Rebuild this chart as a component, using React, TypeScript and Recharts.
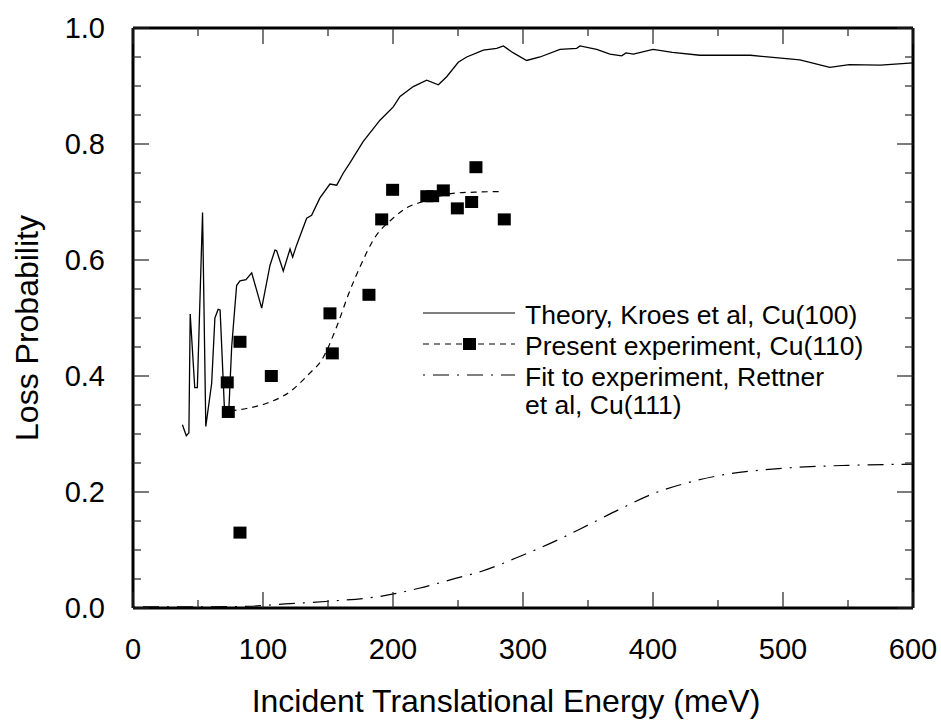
import {
  ComposedChart,
  Line,
  Scatter,
  XAxis,
  YAxis,
} from 'recharts';

const FONT = '"Liberation Sans", Arial, Helvetica, sans-serif';

// Theory, Kroes et al, Cu(100)
const theoryEnergy = [
  38, 41, 43, 44, 47.5, 49.5, 53.5, 56, 60.5, 63, 65.5, 67, 70.3, 71.5, 73.5, 75.9,
  79.7, 82.3, 86.9, 91.3, 99, 105.4, 109.2, 110.5, 115.6, 120.8, 122.8, 125.9, 133.6,
  137.4, 143.8, 151.5, 156.7, 161.8, 167, 177, 190, 200.2, 205.4, 215.6, 225.9, 234.9,
  241.3, 250.2, 256.7, 269.5, 279.8, 284.9, 292.6, 302.8, 313.1, 328.5, 341.3, 343.8,
  356.7, 366.9, 375.9, 379.2, 385, 400, 415, 436, 475, 513, 536, 551, 575, 600,
];
const theoryProb = [
  0.316, 0.297, 0.302, 0.507, 0.38, 0.38, 0.682, 0.313, 0.387, 0.5, 0.515, 0.514, 0.345,
  0.33, 0.33, 0.45, 0.556, 0.564, 0.566, 0.578, 0.517, 0.591, 0.617, 0.616, 0.581, 0.619,
  0.605, 0.626, 0.672, 0.677, 0.707, 0.731, 0.729, 0.75, 0.768, 0.804, 0.841, 0.864, 0.882,
  0.899, 0.91, 0.902, 0.916, 0.941, 0.95, 0.962, 0.965, 0.969, 0.957, 0.944, 0.95, 0.963,
  0.965, 0.969, 0.963, 0.955, 0.952, 0.957, 0.955, 0.963, 0.958, 0.953, 0.953, 0.945,
  0.932, 0.937, 0.936, 0.94,
];

// Present experiment, Cu(110): measured points
const expEnergy = [
  72.5, 73.3, 82.3, 82.3, 106.4, 151.5, 153.3, 181.5, 191.3, 199.7, 226, 230.5, 238.7,
  249.5, 260.5, 263.8, 285.6,
];
const expProb = [
  0.389, 0.338, 0.459, 0.13, 0.4, 0.508, 0.439, 0.54, 0.67, 0.721, 0.71, 0.71, 0.72,
  0.689, 0.7, 0.76, 0.67,
];

// dashed guide through the Cu(110) points
const expFitEnergy = [75, 87.4, 102.8, 120.8, 136, 145, 156.7, 165.6, 175, 185, 200, 210.5, 222, 246, 263, 283];
const expFitProb = [0.34, 0.344, 0.353, 0.373, 0.405, 0.427, 0.485, 0.54, 0.59, 0.635, 0.672, 0.69, 0.7, 0.715, 0.717, 0.718];

// Fit to experiment, Rettner et al, Cu(111)
const rettnerEnergy = [0, 50, 89, 117, 152.6, 188.5, 220, 248, 267.7, 299.7, 323.5, 350, 375, 400, 425, 450, 475, 500, 550, 600];
const rettnerProb = [0.002, 0.002, 0.003, 0.007, 0.012, 0.0195, 0.034, 0.051, 0.063, 0.091, 0.114, 0.143, 0.171, 0.197, 0.215, 0.228, 0.236, 0.241, 0.246, 0.248];

const xTicks = [0, 50, 100, 150, 200, 250, 300, 350, 400, 450, 500, 550, 600];
const yTicks = [
  0, 0.05, 0.1, 0.15, 0.2, 0.25, 0.3, 0.35, 0.4, 0.45, 0.5, 0.55, 0.6, 0.65, 0.7, 0.75,
  0.8, 0.85, 0.9, 0.95, 1,
];

const zip = (es: number[], ps: number[]) => es.map((e, i) => ({ e, p: ps[i] }));

const theory = zip(theoryEnergy, theoryProb);
const experiment = zip(expEnergy, expProb);
const expFit = zip(expFitEnergy, expFitProb);
const rettner = zip(rettnerEnergy, rettnerProb);

function XTick({ x, y, payload, side }: any) {
  const v = payload.value as number;
  const major = v % 100 === 0;
  const len = major ? 16 : 8;
  const dir = side === 'bottom' ? -1 : 1;
  return (
    <g>
      <line x1={x} x2={x} y1={y} y2={y + dir * len} stroke="#222" strokeWidth={1.2} />
      {side === 'bottom' && major && (
        <text x={x} y={y + 51} textAnchor="middle" fontSize={29} fontFamily={FONT} fill="#000">
          {v}
        </text>
      )}
    </g>
  );
}

function YTick({ x, y, payload, side }: any) {
  const v = payload.value as number;
  const major = Math.abs(v * 5 - Math.round(v * 5)) < 1e-6;
  const len = major ? 16 : 8;
  const dir = side === 'left' ? 1 : -1;
  return (
    <g>
      <line x1={x} x2={x + dir * len} y1={y} y2={y} stroke="#222" strokeWidth={1.2} />
      {side === 'left' && major && (
        <text x={x - 28} y={y + 10} textAnchor="end" fontSize={29} fontFamily={FONT} fill="#000">
          {v.toFixed(1)}
        </text>
      )}
    </g>
  );
}

const squareDot = (props: any) => {
  const { cx, cy } = props;
  if (cx == null || cy == null) return <g />;
  return <rect x={cx - 6.5} y={cy - 6} width={13} height={12} fill="#000" />;
};

function LegendBox() {
  const rows = [
    { label: 'Theory, Kroes et al, Cu(100)', dash: undefined as string | undefined, marker: false },
    { label: 'Present experiment, Cu(110)', dash: '6 5', marker: true },
    { label: 'Fit to experiment, Rettner', dash: '2 8 16 8', marker: false },
  ];
  return (
    <svg
      width={941}
      height={721}
      style={{ position: 'absolute', left: 0, top: 0, pointerEvents: 'none' }}
    >
      {rows.map((r, i) => {
        const cy = 313 + i * 31;
        return (
          <g key={r.label}>
            <line x1={423} x2={515} y1={cy} y2={cy} stroke="#000" strokeWidth={1.2} strokeDasharray={r.dash} />
            {r.marker && <rect x={463} y={cy - 6} width={13} height={12} fill="#000" />}
            <text x={525} y={cy + 11} fontSize={26.5} fontFamily={FONT} fill="#000">
              {r.label}
            </text>
          </g>
        );
      })}
      <text x={525} y={414} fontSize={26.5} fontFamily={FONT} fill="#000">
        et al, Cu(111)
      </text>
      <text
        transform="translate(38, 328) rotate(-90)"
        textAnchor="middle"
        fontSize={32}
        fontFamily={FONT}
        fill="#000"
      >
        Loss Probability
      </text>
      <text x={506} y={712} textAnchor="middle" fontSize={32} fontFamily={FONT} fill="#000">
        Incident Translational Energy (meV)
      </text>
    </svg>
  );
}

export default function App() {
  return (
    <div style={{ position: 'absolute', left: 0, top: 0, width: 941, height: 721, background: '#fff' }}>
      <ComposedChart width={941} height={721} margin={{ top: 27, right: 27, bottom: 0, left: 0 }}>
        <XAxis
          xAxisId="bottom"
          dataKey="e"
          type="number"
          domain={[0, 600]}
          ticks={xTicks}
          interval={0}
          height={113}
          tickSize={0}
          tickMargin={0}
          tickLine={false}
          axisLine={{ stroke: '#000', strokeWidth: 3 }}
          tick={<XTick side="bottom" />}
          allowDataOverflow
        />
        <XAxis
          xAxisId="top"
          orientation="top"
          dataKey="e"
          type="number"
          domain={[0, 600]}
          ticks={xTicks}
          interval={0}
          height={1}
          tickSize={0}
          tickMargin={0}
          tickLine={false}
          axisLine={{ stroke: '#000', strokeWidth: 3 }}
          tick={<XTick side="top" />}
          allowDataOverflow
        />
        <YAxis
          yAxisId="left"
          type="number"
          domain={[0, 1]}
          ticks={yTicks}
          interval={0}
          width={133}
          tickSize={0}
          tickMargin={0}
          tickLine={false}
          axisLine={{ stroke: '#000', strokeWidth: 3 }}
          tick={<YTick side="left" />}
          allowDataOverflow
        />
        <YAxis
          yAxisId="right"
          orientation="right"
          type="number"
          domain={[0, 1]}
          ticks={yTicks}
          interval={0}
          width={1}
          tickSize={0}
          tickMargin={0}
          tickLine={false}
          axisLine={{ stroke: '#000', strokeWidth: 3 }}
          tick={<YTick side="right" />}
          allowDataOverflow
        />
        <Line
          xAxisId="bottom"
          yAxisId="left"
          data={rettner}
          dataKey="p"
          type="monotone"
          stroke="#000"
          strokeWidth={1.2}
          strokeDasharray="2 8 16 8"
          dot={false}
          isAnimationActive={false}
        />
        <Line
          xAxisId="bottom"
          yAxisId="left"
          data={expFit}
          dataKey="p"
          type="monotone"
          stroke="#000"
          strokeWidth={1.2}
          strokeDasharray="6 5"
          dot={false}
          isAnimationActive={false}
        />
        <Line
          xAxisId="bottom"
          yAxisId="left"
          data={theory}
          dataKey="p"
          type="linear"
          stroke="#000"
          strokeWidth={1.3}
          dot={false}
          isAnimationActive={false}
        />
        <Scatter
          xAxisId="bottom"
          yAxisId="left"
          data={experiment}
          dataKey="p"
          shape={squareDot}
          isAnimationActive={false}
        />
      </ComposedChart>
      <LegendBox />
    </div>
  );
}
